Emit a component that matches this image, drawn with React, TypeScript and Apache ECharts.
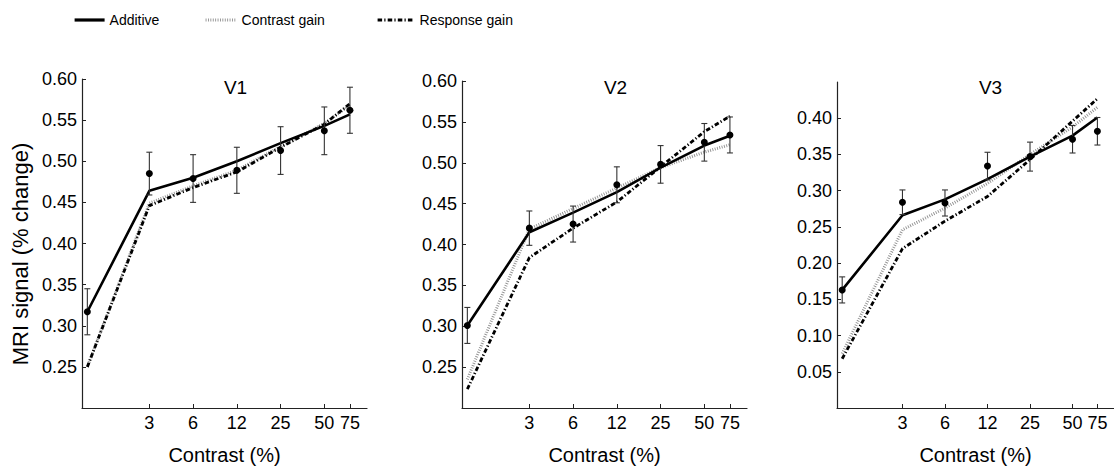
import React, { useEffect, useRef } from "react";
import * as echarts from "echarts";

// Contrast (%) at which each point is plotted (first point = 0% condition, drawn at the left edge)
const contrastPositions = [1.17, 3.125, 6.25, 12.5, 25, 50, 75];
const xTickValues = [3.125, 6.25, 12.5, 25, 50, 75];
const xTickLabels = ["3", "6", "12", "25", "50", "75"];
const xRange = [1.075, 98.3];

const panelTitles = ["V1", "V2", "V3"];
const seriesNames = ["Additive", "Contrast gain", "Response gain"];

// V1
const v1Mean = [0.317, 0.485, 0.479, 0.489, 0.513, 0.537, 0.562];
const v1Err = [0.028, 0.026, 0.029, 0.028, 0.029, 0.029, 0.028];
const v1Additive = [0.317, 0.464, 0.480, 0.500, 0.522, 0.543, 0.557];
const v1ContrastGain = [0.250, 0.449, 0.470, 0.489, 0.518, 0.546, 0.568];
const v1ResponseGain = [0.250, 0.446, 0.468, 0.487, 0.517, 0.545, 0.570];

// V2
const v2Mean = [0.301, 0.420, 0.425, 0.473, 0.498, 0.525, 0.534];
const v2Err = [0.022, 0.021, 0.022, 0.022, 0.023, 0.023, 0.022];
const v2Additive = [0.301, 0.415, 0.439, 0.464, 0.494, 0.521, 0.533];
const v2ContrastGain = [0.235, 0.419, 0.444, 0.469, 0.494, 0.513, 0.522];
const v2ResponseGain = [0.223, 0.384, 0.420, 0.452, 0.495, 0.538, 0.557];

// V3
const v3Mean = [0.163, 0.284, 0.283, 0.334, 0.347, 0.371, 0.382];
const v3Err = [0.018, 0.017, 0.018, 0.019, 0.020, 0.019, 0.019];
const v3Additive = [0.163, 0.266, 0.288, 0.316, 0.347, 0.376, 0.401];
const v3ContrastGain = [0.075, 0.246, 0.276, 0.310, 0.350, 0.388, 0.415];
const v3ResponseGain = [0.068, 0.220, 0.258, 0.292, 0.343, 0.396, 0.427];

const yTicksV1 = [0.25, 0.3, 0.35, 0.4, 0.45, 0.5, 0.55, 0.6];
const yTicksV2 = [0.25, 0.3, 0.35, 0.4, 0.45, 0.5, 0.55, 0.6];
const yTicksV3 = [0.05, 0.1, 0.15, 0.2, 0.25, 0.3, 0.35, 0.4];
const yRangeV1 = [0.2, 0.6];
const yRangeV2 = [0.2, 0.6];
const yRangeV3 = [0, 0.45];

const FONT = "Liberation Sans, Arial, Helvetica, sans-serif";

const panels = [
  { title: panelTitles[0], mean: v1Mean, err: v1Err, add: v1Additive, cg: v1ContrastGain, rg: v1ResponseGain, ticks: yTicksV1, range: yRangeV1 },
  { title: panelTitles[1], mean: v2Mean, err: v2Err, add: v2Additive, cg: v2ContrastGain, rg: v2ResponseGain, ticks: yTicksV2, range: yRangeV2 },
  { title: panelTitles[2], mean: v3Mean, err: v3Err, add: v3Additive, cg: v3ContrastGain, rg: v3ResponseGain, ticks: yTicksV3, range: yRangeV3 },
];

const grids = [
  { left: 82, top: 79, width: 285, height: 330 },
  { left: 462, top: 81, width: 285, height: 328 },
  { left: 837, top: 82, width: 285, height: 330 },
];

const axisColor = "#222";
const additiveStyle = { color: "#000", width: 2.6, type: "solid" as const };
const contrastGainStyle = { color: "#8f8f8f", width: 3, type: [0.9, 1.5], cap: "butt" as const };
const responseGainStyle = { color: "#000", width: 2.8, type: [4.5, 2.2, 1.2, 2.2], cap: "butt" as const };

const lx = (c: number) => Math.log2(c);

function xLabel(v: number): string {
  for (let i = 0; i < xTickValues.length; i++) {
    if (Math.abs(lx(xTickValues[i]) - v) < 1e-6) return xTickLabels[i];
  }
  return "";
}

function buildOption() {
  const xAxis: any[] = [];
  const yAxis: any[] = [];
  const series: any[] = [];
  const graphic: any[] = [];

  panels.forEach((p, k) => {
    xAxis.push({
      type: "value",
      gridIndex: k,
      min: lx(xRange[0]),
      max: lx(xRange[1]),
      name: "Contrast (%)",
      nameLocation: "middle",
      nameGap: 37,
      nameTextStyle: { fontFamily: FONT, fontSize: 20, color: "#000" },
      axisLine: { show: true, lineStyle: { color: axisColor, width: 1.2 } },
      axisTick: { show: true, inside: true, length: 4, customValues: xTickValues.map(lx), lineStyle: { color: axisColor } },
      axisLabel: {
        customValues: xTickValues.map(lx),
        formatter: (v: number) => xLabel(v),
        fontFamily: FONT,
        fontSize: 18,
        color: "#000",
        margin: 6,
      },
      splitLine: { show: false },
    });
    yAxis.push({
      type: "value",
      gridIndex: k,
      min: p.range[0],
      max: p.range[1],
      axisLine: { show: true, lineStyle: { color: axisColor, width: 1.2 } },
      axisTick: { show: true, inside: true, length: 4, customValues: p.ticks, lineStyle: { color: axisColor } },
      axisLabel: {
        customValues: p.ticks,
        formatter: (v: number) => v.toFixed(2),
        fontFamily: FONT,
        fontSize: 18,
        color: "#000",
        margin: 5,
      },
      splitLine: { show: false },
    });

    const toXY = (arr: number[]) => contrastPositions.map((c, i) => [lx(c), arr[i]]);

    series.push({
      name: seriesNames[1],
      type: "line",
      xAxisIndex: k,
      yAxisIndex: k,
      data: toXY(p.cg),
      symbol: "none",
      itemStyle: { color: contrastGainStyle.color },
      lineStyle: contrastGainStyle,
      z: 2,
    });
    series.push({
      name: seriesNames[2],
      type: "line",
      xAxisIndex: k,
      yAxisIndex: k,
      data: toXY(p.rg),
      symbol: "none",
      itemStyle: { color: "#000" },
      lineStyle: responseGainStyle,
      z: 3,
    });
    series.push({
      name: seriesNames[0],
      type: "line",
      xAxisIndex: k,
      yAxisIndex: k,
      data: toXY(p.add),
      symbol: "none",
      itemStyle: { color: "#000" },
      lineStyle: additiveStyle,
      z: 4,
    });
    series.push({
      name: "err" + k,
      type: "custom",
      xAxisIndex: k,
      yAxisIndex: k,
      data: contrastPositions.map((c, i) => [lx(c), p.mean[i] - p.err[i], p.mean[i] + p.err[i]]),
      encode: { x: 0, y: [1, 2] },
      z: 5,
      renderItem: (params: any, api: any) => {
        const x = api.value(0);
        const lo = api.coord([x, api.value(1)]);
        const hi = api.coord([x, api.value(2)]);
        const w = 3;
        const st = { stroke: "#333", lineWidth: 1.1 };
        return {
          type: "group",
          children: [
            { type: "line", shape: { x1: lo[0], y1: lo[1], x2: hi[0], y2: hi[1] }, style: st },
            { type: "line", shape: { x1: hi[0] - w, y1: hi[1], x2: hi[0] + w, y2: hi[1] }, style: st },
            { type: "line", shape: { x1: lo[0] - w, y1: lo[1], x2: lo[0] + w, y2: lo[1] }, style: st },
          ],
        };
      },
    });
    series.push({
      name: "mean" + k,
      type: "scatter",
      xAxisIndex: k,
      yAxisIndex: k,
      data: toXY(p.mean),
      symbol: "circle",
      symbolSize: 7,
      itemStyle: { color: "#000", opacity: 1 },
      z: 6,
    });

    const g = grids[k];
    graphic.push({
      type: "text",
      x: g.left + g.width / 2 + 11,
      y: 87,
      style: {
        text: p.title,
        fontFamily: FONT,
        fontSize: 19,
        fill: "#000",
        textAlign: "center",
        textVerticalAlign: "middle",
      },
    });
  });

  graphic.push({
    type: "text",
    x: 20,
    y: 254,
    rotation: Math.PI / 2,
    style: {
      text: "MRI signal (% change)",
      fontFamily: FONT,
      fontSize: 22,
      fill: "#000",
      textAlign: "center",
      textVerticalAlign: "middle",
    },
  });

  const legendBase = {
    orient: "horizontal",
    padding: 0,
    itemHeight: 14,
    itemGap: 10,
    selectedMode: false,
    itemStyle: { opacity: 0, borderWidth: 0 },
    lineStyle: { width: 3.2 },
    textStyle: { fontFamily: FONT, fontSize: 14, color: "#000" },
  };

  return {
    animation: false,
    backgroundColor: "#fff",
    grid: grids.map((g) => ({ ...g, containLabel: false })),
    xAxis,
    yAxis,
    series,
    graphic,
    legend: [
      { ...legendBase, data: [seriesNames[0]], left: 73, top: 13, itemWidth: 30 },
      { ...legendBase, data: [seriesNames[1]], left: 204, top: 13, itemWidth: 31 },
      { ...legendBase, data: [seriesNames[2]], left: 376, top: 13, itemWidth: 37 },
    ],
  };
}

export default function App() {
  const ref = useRef<HTMLDivElement>(null);
  useEffect(() => {
    if (!ref.current) return;
    const chart = echarts.init(ref.current, null, { renderer: "svg" });
    chart.setOption(buildOption() as any);
    return () => chart.dispose();
  }, []);
  return (
    <div
      ref={ref}
      style={{ position: "fixed", left: 0, top: 0, width: 1114, height: 470, background: "#fff" }}
    />
  );
}
